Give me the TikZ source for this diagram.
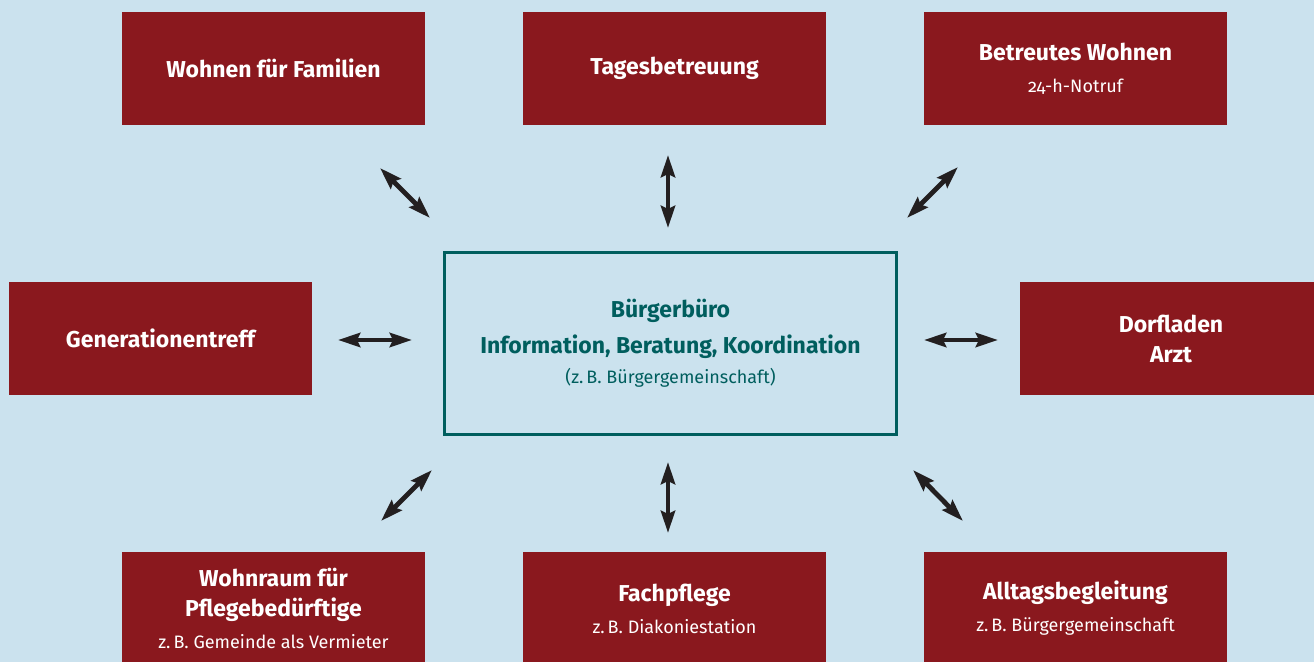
\documentclass[tikz,border=0pt]{standalone}
\usepackage{fontspec}
\setmainfont{Fira Sans}[Numbers=OldStyle]
\usetikzlibrary{arrows.meta, positioning}
\definecolor{bbred}{RGB}{138, 24, 30}
\definecolor{bbblue}{RGB}{203, 226, 238}
\definecolor{bbteal}{RGB}{0, 94, 94}
\definecolor{bbarrow}{RGB}{35, 31, 32}

\begin{document}
\begin{tikzpicture}[x=0.5pt, y=-0.5pt,
    box/.style={rectangle, fill=bbred, minimum width=151.5pt, minimum height=56.5pt, inner sep=0pt, align=center, text=white, font=\fontsize{11.5}{15}\selectfont\bfseries},
    hub/.style={rectangle, draw=bbteal, line width=1.5pt, minimum width=226pt, minimum height=91pt, inner sep=0pt, align=center, text=bbteal, font=\fontsize{11.5}{18}\selectfont\bfseries},
    link/.style={{Stealth[length=11pt, width=7pt, inset=1.5pt]}-{Stealth[length=11pt, width=7pt, inset=1.5pt]}, line width=2.4pt, bbarrow}
]
% Background
\fill[bbblue] (0,0) rectangle (1314,662);
\useasboundingbox (0,0) rectangle (1314,662);

% Centre
\node[hub] (buero) at (670.5,343.5) {B\"urgerb\"uro\\
    Information, Beratung, Koordination\\[-3pt]
    {\mdseries\fontsize{9}{10}\selectfont (z.\,B. B\"urgergemeinschaft)}};

% Top row
\node[box] (familien) at (273.5,68.5) {Wohnen f\"ur Familien};
\node[box] (tages) at (674.5,68.5) {Tagesbetreuung};
\node[box] (betreut) at (1075.5,68.5) {Betreutes Wohnen\\[1pt]
    {\mdseries\fontsize{9}{10}\selectfont 24-h-Notruf}};

% Middle row
\node[box] (treff) at (160.5,338.5) {Generationentreff};
\node[box] (dorf) at (1171,338.5) {Dorfladen\\Arzt};

% Bottom row
\node[box] (wohnraum) at (273.5,608.5) {Wohnraum f\"ur\\Pflegebed\"urftige\\[1pt]
    {\mdseries\fontsize{9}{10}\selectfont z.\,B. Gemeinde als Vermieter}};
\node[box] (fachpflege) at (674.5,608.5) {Fachpflege\\[1pt]
    {\mdseries\fontsize{9}{10}\selectfont z.\,B. Diakoniestation}};
\node[box] (alltag) at (1075.5,608.5) {Alltagsbegleitung\\[1pt]
    {\mdseries\fontsize{9}{10}\selectfont z.\,B. B\"urgergemeinschaft}};

% Arrow ends
\coordinate (tlA) at (380,168);  \coordinate (tlB) at (430,218);
\coordinate (tcA) at (668,155);  \coordinate (tcB) at (668,228);
\coordinate (trA) at (958,167);  \coordinate (trB) at (907,218);
\coordinate (mlA) at (338,340);  \coordinate (mlB) at (412,340);
\coordinate (mrA) at (924,340);  \coordinate (mrB) at (998,340);
\coordinate (blA) at (432,470);  \coordinate (blB) at (381,521);
\coordinate (bcA) at (668,462);  \coordinate (bcB) at (668,533);
\coordinate (brA) at (913,470);  \coordinate (brB) at (963,521);

% Arrows
\draw[link] (tlA) -- (tlB);
\draw[link] (tcA) -- (tcB);
\draw[link] (trA) -- (trB);
\draw[link] (mlA) -- (mlB);
\draw[link] (mrA) -- (mrB);
\draw[link] (blA) -- (blB);
\draw[link] (bcA) -- (bcB);
\draw[link] (brA) -- (brB);
\end{tikzpicture}
\end{document}
